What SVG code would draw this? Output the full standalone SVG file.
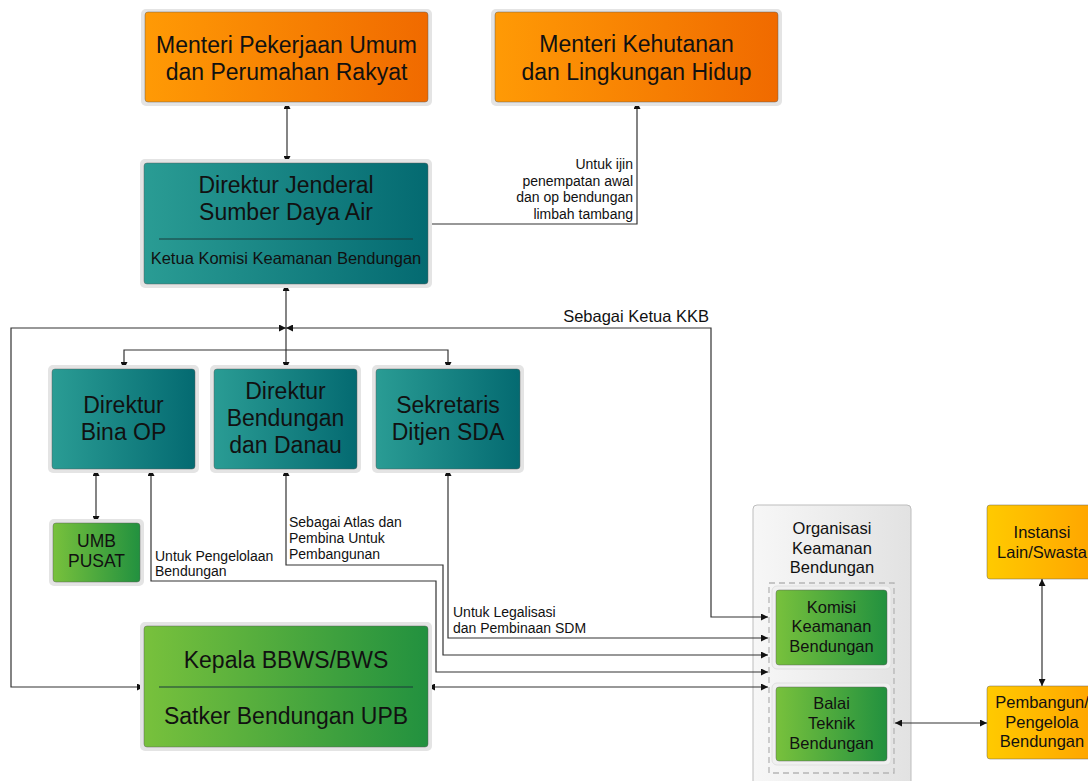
<svg xmlns="http://www.w3.org/2000/svg" width="1088" height="781" viewBox="0 0 1088 781">
<defs>
<linearGradient id="gOrange" x1="0" y1="0" x2="1" y2="0"><stop offset="0" stop-color="#ff9a05"/><stop offset="1" stop-color="#f06a00"/></linearGradient>
<linearGradient id="gTeal" x1="0" y1="0" x2="1" y2="0"><stop offset="0" stop-color="#2a9c94"/><stop offset="1" stop-color="#046a71"/></linearGradient>
<linearGradient id="gGreen" x1="0" y1="0" x2="1" y2="0"><stop offset="0" stop-color="#78c13c"/><stop offset="1" stop-color="#22913f"/></linearGradient>
<linearGradient id="gYellow" x1="0" y1="0" x2="1" y2="0"><stop offset="0" stop-color="#ffca00"/><stop offset="1" stop-color="#ffa300"/></linearGradient>
<linearGradient id="gGray" x1="0" y1="0" x2="1" y2="0"><stop offset="0" stop-color="#f7f7f7"/><stop offset="1" stop-color="#e2e2e2"/></linearGradient>
<marker id="arr" viewBox="0 0 10 10" refX="10" refY="5" markerWidth="7" markerHeight="7" markerUnits="userSpaceOnUse" orient="auto-start-reverse"><path d="M0,0 L10,5 L0,10 z" fill="#111"/></marker>
<style>
.halo{fill:#e4e4e4}
.box{stroke:#5a5a5a;stroke-opacity:0.45;stroke-width:1}
.t{font-family:"Liberation Sans",Arial,sans-serif;fill:#111;text-anchor:middle}
.big{font-size:23px}
.mid{font-size:16.5px}
.sm{font-size:14px}
.lbl{font-family:"Liberation Sans",Arial,sans-serif;fill:#111;font-size:14px}
.conn{fill:none;stroke:#333;stroke-width:1.2}
.div{stroke:#1a3a3a;stroke-width:1.2}
</style>
</defs>
<rect width="1088" height="781" fill="#fff"/>

<g id="org-container">
<rect x="753" y="505" width="158" height="290" rx="4" fill="url(#gGray)" stroke="#bdbdbd" stroke-width="1"/>
<text class="t mid" x="832" y="534">Organisasi</text>
<text class="t mid" x="832" y="554">Keamanan</text>
<text class="t mid" x="832" y="573">Bendungan</text>
<rect x="769" y="583" width="125" height="190" fill="none" stroke="#b5b5b5" stroke-width="1.3" stroke-dasharray="6,4"/>
</g>

<g id="connectors">
<path class="conn" d="M287,102 V163" marker-start="url(#arr)" marker-end="url(#arr)"/>
<path class="conn" d="M428,224 H637 V102" marker-end="url(#arr)"/>
<path class="conn" d="M286,284 V369" marker-start="url(#arr)" marker-end="url(#arr)"/>
<path class="conn" d="M286,350 H124 V369" marker-end="url(#arr)"/>
<path class="conn" d="M286,350 H448 V369" marker-end="url(#arr)"/>
<path class="conn" d="M144,687 H11 V328 H286" marker-start="url(#arr)" marker-end="url(#arr)"/>
<path class="conn" d="M768,617 H711 V328 H286" marker-start="url(#arr)" marker-end="url(#arr)"/>
<path class="conn" d="M96,469 V523" marker-start="url(#arr)" marker-end="url(#arr)"/>
<path class="conn" d="M151,469 V581 H436 V672 H768" marker-start="url(#arr)" marker-end="url(#arr)"/>
<path class="conn" d="M286,469 V565 H443 V655 H768" marker-start="url(#arr)" marker-end="url(#arr)"/>
<path class="conn" d="M448,469 V638 H768" marker-start="url(#arr)" marker-end="url(#arr)"/>
<path class="conn" d="M428,687 H768" marker-start="url(#arr)" marker-end="url(#arr)"/>
<path class="conn" d="M895,723 H987" marker-start="url(#arr)" marker-end="url(#arr)"/>
<path class="conn" d="M1042,579 V686" marker-start="url(#arr)" marker-end="url(#arr)"/>
<text class="lbl" x="633" y="169" text-anchor="end">Untuk ijin</text>
<text class="lbl" x="633" y="186" text-anchor="end">penempatan awal</text>
<text class="lbl" x="633" y="202" text-anchor="end">dan op bendungan</text>
<text class="lbl" x="633" y="219" text-anchor="end">limbah tambang</text>
<text class="lbl" x="709" y="322" text-anchor="end" style="font-size:16.5px">Sebagai Ketua KKB</text>
<text class="lbl" x="155" y="560.5">Untuk Pengelolaan</text>
<text class="lbl" x="155" y="576">Bendungan</text>
<text class="lbl" x="289" y="526.5">Sebagai Atlas dan</text>
<text class="lbl" x="289" y="542.5">Pembina Untuk</text>
<text class="lbl" x="289" y="558.5">Pembangunan</text>
<text class="lbl" x="453" y="616.5">Untuk Legalisasi</text>
<text class="lbl" x="453" y="632.5">dan Pembinaan SDM</text>
</g>

<g id="menteri-pupr">
<rect class="halo" x="141" y="9" width="291" height="97" rx="5"/>
<rect class="box" x="145" y="12" width="283" height="90" rx="3" fill="url(#gOrange)"/>
<text class="t big" x="286.5" y="53">Menteri Pekerjaan Umum</text>
<text class="t big" x="286.5" y="80">dan Perumahan Rakyat</text>
</g>

<g id="menteri-klhk">
<rect class="halo" x="491" y="9" width="291" height="97" rx="5"/>
<rect class="box" x="495" y="12" width="283" height="90" rx="3" fill="url(#gOrange)"/>
<text class="t big" x="636.5" y="52">Menteri Kehutanan</text>
<text class="t big" x="636.5" y="80">dan Lingkungan Hidup</text>
</g>

<g id="dirjen-sda">
<rect class="halo" x="140" y="159" width="292" height="129" rx="5"/>
<rect class="box" x="144" y="163" width="284" height="121" rx="3" fill="url(#gTeal)"/>
<text class="t big" x="286" y="193">Direktur Jenderal</text>
<text class="t big" x="286" y="220">Sumber Daya Air</text>
<line class="div" x1="159" y1="239" x2="413" y2="239"/>
<text class="t mid" x="286" y="264">Ketua Komisi Keamanan Bendungan</text>
</g>

<g id="direktur-bina-op">
<rect class="halo" x="48" y="365" width="151" height="108" rx="5"/>
<rect class="box" x="52" y="369" width="143" height="100" rx="3" fill="url(#gTeal)"/>
<text class="t big" x="123.5" y="413">Direktur</text>
<text class="t big" x="123.5" y="440">Bina OP</text>
</g>

<g id="direktur-bendungan">
<rect class="halo" x="210" y="365" width="151" height="108" rx="5"/>
<rect class="box" x="214" y="369" width="143" height="100" rx="3" fill="url(#gTeal)"/>
<text class="t big" x="285.5" y="399">Direktur</text>
<text class="t big" x="285.5" y="426">Bendungan</text>
<text class="t big" x="285.5" y="453">dan Danau</text>
</g>

<g id="sekretaris">
<rect class="halo" x="372" y="365" width="152" height="108" rx="5"/>
<rect class="box" x="376" y="369" width="144" height="100" rx="3" fill="url(#gTeal)"/>
<text class="t big" x="448" y="413">Sekretaris</text>
<text class="t big" x="448" y="440">Ditjen SDA</text>
</g>

<g id="umb-pusat">
<rect class="halo" x="49" y="519" width="95" height="67" rx="5"/>
<rect class="box" x="53" y="523" width="87" height="59" rx="3" fill="url(#gGreen)"/>
<text class="t" style="font-size:17.5px" x="96.5" y="547">UMB</text>
<text class="t" style="font-size:17.5px" x="96.5" y="567">PUSAT</text>
</g>

<g id="kepala-bbws">
<rect class="halo" x="140" y="622" width="292" height="129" rx="5"/>
<rect class="box" x="144" y="626" width="284" height="121" rx="3" fill="url(#gGreen)"/>
<text class="t big" x="286" y="668">Kepala BBWS/BWS</text>
<line class="div" x1="159" y1="687" x2="413" y2="687"/>
<text class="t big" x="286" y="724">Satker Bendungan UPB</text>
</g>

<g id="komisi">
<rect x="772" y="586" width="119" height="83" rx="5" fill="#f0f0f0" stroke="#e0e0e0"/>
<rect class="box" x="776" y="590" width="111" height="75" rx="3" fill="url(#gGreen)"/>
<text class="t mid" x="831.5" y="612.5">Komisi</text>
<text class="t mid" x="831.5" y="632">Keamanan</text>
<text class="t mid" x="831.5" y="652">Bendungan</text>
</g>

<g id="balai">
<rect x="772" y="683" width="119" height="82" rx="5" fill="#f0f0f0" stroke="#e0e0e0"/>
<rect class="box" x="776" y="687" width="111" height="74" rx="3" fill="url(#gGreen)"/>
<text class="t mid" x="831.5" y="709">Balai</text>
<text class="t mid" x="831.5" y="729">Teknik</text>
<text class="t mid" x="831.5" y="749">Bendungan</text>
</g>

<g id="instansi">
<rect class="box" x="987" y="505" width="112" height="74" rx="3" fill="url(#gYellow)"/>
<text class="t mid" x="1042" y="537.5">Instansi</text>
<text class="t mid" x="1042" y="557.5">Lain/Swasta</text>
</g>

<g id="pembangun">
<rect class="box" x="987" y="686" width="112" height="73" rx="3" fill="url(#gYellow)"/>
<text class="t mid" x="1042" y="708">Pembangun/</text>
<text class="t mid" x="1042" y="727.5">Pengelola</text>
<text class="t mid" x="1042" y="746.5">Bendungan</text>
</g>
</svg>
